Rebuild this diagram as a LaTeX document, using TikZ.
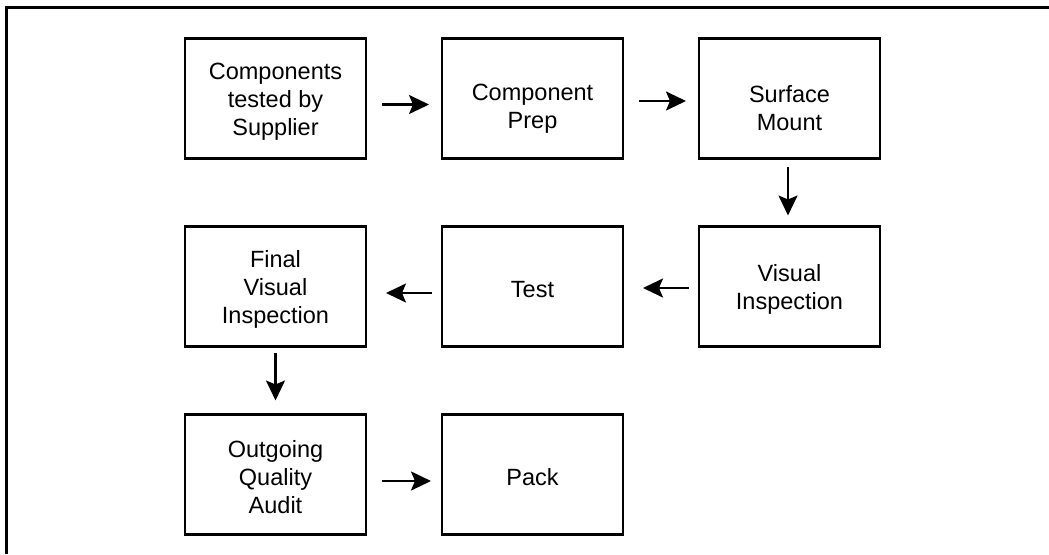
\documentclass[tikz,border=0pt]{standalone}
\usepackage{fontspec}
\setmainfont{Liberation Sans}
\usetikzlibrary{positioning}
\usetikzlibrary{arrows.meta}

\begin{document}
\begin{tikzpicture}[x=1pt,y=-1pt,
    box/.style={draw,line width=2.5pt,minimum width=181pt,minimum height=120pt,
      inner sep=0pt,outer sep=0pt},
    lbl/.style={align=center,inner sep=0pt,yshift=-3pt,font=\fontsize{23.5}{28}\selectfont},
    arr/.style={-{Stealth[length=20pt,width=19pt,inset=4pt]},line width=2.2pt},
    node distance=68pt and 76pt]
      \useasboundingbox (0,0) rectangle (1049,554);
      \draw[line width=3pt] (6.5,554) -- (6.5,7.5) -- (1049,7.5);

      \node[box,label={[lbl]center:Components\\tested by\\Supplier}] (sup) at (275.5,98.5) {};
      \node[box,right=of sup,label={[lbl,yshift=-7pt]center:Component\\Prep}] (prep) {};
      \node[box,right=of prep,label={[lbl,yshift=-7pt]center:Surface\\Mount}] (smt) {};
      \node[box,below=of smt,label={[lbl]center:Visual\\Inspection}] (vis) {};
      \node[box,left=of vis,label={[lbl]center:Test}] (test) {};
      \node[box,left=of test,label={[lbl]center:Final\\Visual\\Inspection}] (fvi) {};
      \node[box,below=of fvi,label={[lbl]center:Outgoing\\Quality\\Audit}] (oqa) {};
      \node[box,right=of oqa,label={[lbl]center:Pack}] (pack) {};

      \draw[arr,shorten <=16pt,shorten >=13pt] ([yshift=-6pt]sup.east) -- ([yshift=-6pt]prep.west);
      \draw[arr,shorten <=16pt,shorten >=13pt] ([yshift=-2.5pt]prep.east) -- ([yshift=-2.5pt]smt.west);
      \draw[arr,shorten <=8pt,shorten >=11pt] ([xshift=-1.5pt]smt.south) -- ([xshift=-1.5pt]vis.north);
      \draw[arr,shorten <=10pt,shorten >=20pt] ([yshift=-1.5pt]vis.west) -- ([yshift=-1.5pt]test.east);
      \draw[arr,shorten <=10pt,shorten >=20pt] ([yshift=-6.5pt]test.west) -- ([yshift=-6.5pt]fvi.east);
      \draw[arr,shorten <=6pt,shorten >=14pt] (fvi.south) -- (oqa.north);
      \draw[arr,shorten <=16pt,shorten >=11pt] ([yshift=-6.5pt]oqa.east) -- ([yshift=-6.5pt]pack.west);
\end{tikzpicture}
\end{document}
